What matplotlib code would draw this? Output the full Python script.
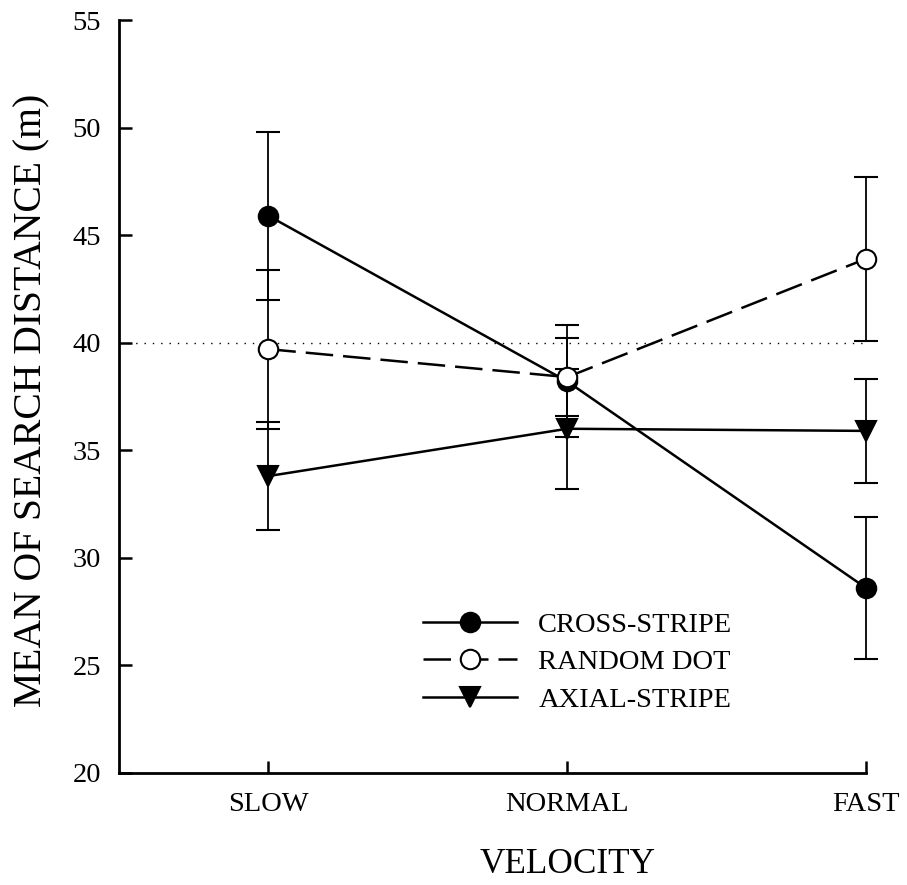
import numpy as np
import matplotlib
matplotlib.use("Agg")
import matplotlib.pyplot as plt
from matplotlib.lines import Line2D

# mean search distance (m) and error per velocity
velocity = ["SLOW", "NORMAL", "FAST"]
cross_stripe = [45.9, 38.2, 28.6]
cross_err = [3.9, 2.6, 3.3]
random_dot = [39.7, 38.4, 43.9]
random_err = [3.7, 1.8, 3.8]
axial_stripe = [33.8, 36.0, 35.9]
axial_err = [2.5, 2.8, 2.4]
reference_level = 40

plt.rcParams['font.family'] = ['Liberation Serif', 'DejaVu Serif']

fig = plt.figure(figsize=(9.07, 8.85), dpi=100)
ax = fig.add_axes([0.1312, 0.1266, 0.8236, 0.8508])

x = np.arange(len(velocity))
dash = (0, (11, 4))

ax.plot([-0.5, 2], [reference_level, reference_level], color='k',
        linestyle=(0, (1, 5)), lw=1.0, zorder=1)

common = dict(color='k', lw=1.8, markersize=14, elinewidth=1.3,
              capsize=8.5, capthick=1.5, markeredgewidth=1.5)
series = [
    (cross_stripe, cross_err, 'o', 'k', '-', 'CROSS-STRIPE', 3),
    (random_dot, random_err, 'o', 'white', dash, 'RANDOM DOT', 4),
    (axial_stripe, axial_err, 'v', 'k', '-', 'AXIAL-STRIPE', 3),
]
handles = []
for vals, err, mk, fill, ls, name, z in series:
    cont = ax.errorbar(x, vals, yerr=err, fmt=mk, mfc=fill, linestyle=ls,
                       zorder=z, **common)
    for art in [cont.lines[0], *cont.lines[1], *cont.lines[2]]:
        art.set_clip_on(False)
    handles.append(Line2D([], [], color='k', lw=1.8, linestyle=ls, marker=mk,
                          markersize=14, mfc=fill, markeredgewidth=1.5,
                          label=name))

ax.set_xlim(-0.5, 2)
ax.set_ylim(20, 55)
ax.set_xticks(x)
ax.set_xticklabels(velocity)
ax.set_yticks(np.arange(20, 56, 5))

for side in ['top', 'right']:
    ax.spines[side].set_visible(False)
for side in ['left', 'bottom']:
    ax.spines[side].set_linewidth(2.0)

ax.tick_params(axis='both', direction='in', length=9, width=1.8,
               labelsize=20.5)
ax.tick_params(axis='y', pad=13)
ax.tick_params(axis='x', pad=14)

ax.set_xlabel('VELOCITY', fontsize=25.3)
ax.xaxis.set_label_coords(0.6, -0.1)
ax.set_ylabel('MEAN OF SEARCH DISTANCE (m)', fontsize=28.5)
ax.yaxis.set_label_coords(-0.092, 0.495)

ax.legend(handles=handles, loc='lower left', bbox_to_anchor=(0.407, 0.08),
          frameon=False, fontsize=20.5, handlelength=3.3, handletextpad=0.75,
          labelspacing=0.4, borderpad=0, borderaxespad=0)

fig.savefig('out.png', dpi=100)
